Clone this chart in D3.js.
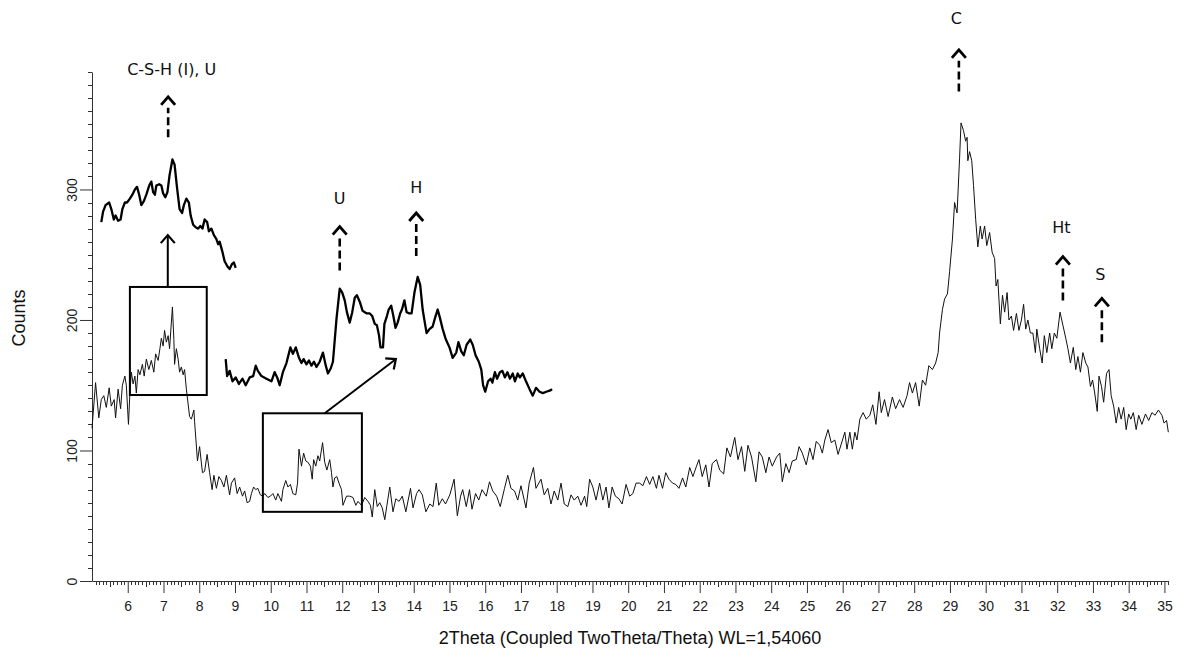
<!DOCTYPE html>
<html>
<head>
<meta charset="utf-8">
<script src="https://cdn.jsdelivr.net/npm/d3@7"></script>
<style>
  body { margin: 0; background: #fff; }
  .axis text { font-family: "Liberation Sans", Arial, sans-serif; font-size: 14px; fill: #222; }
  .axis path, .axis line, .minor line { stroke: #333; stroke-width: 1; }
  .title { font-family: "Liberation Sans", Arial, sans-serif; font-size: 18px; fill: #111; }
  .peak-label { font-family: "DejaVu Sans", sans-serif; font-size: 16px; fill: #111; }
</style>
</head>
<body>
<svg id="chart" width="1177" height="655"></svg>
<script>
// -----------------------------------------------------------------------------
// Data (2Theta, counts)
// -----------------------------------------------------------------------------

var scanLow = [
  [5.00,117],[5.10,152],[5.19,125],[5.26,139],[5.33,142],[5.40,133],[5.48,148],[5.54,134],[5.62,139],[5.66,125],
  [5.73,147],[5.80,132],[5.85,150],[5.92,157],[5.96,150],[6.02,120],[6.06,144],[6.10,160],[6.15,151],[6.20,157],
  [6.24,144],[6.29,162],[6.34,158],[6.41,166],[6.46,157],[6.52,170],[6.59,162],[6.66,169],[6.73,160],[6.78,174],
  [6.85,169],[6.90,178],[6.94,186],[6.99,180],[7.03,192],[7.08,183],[7.13,188],[7.17,178],[7.25,210],[7.29,185],
  [7.31,166],[7.36,178],[7.41,170],[7.45,160],[7.50,164],[7.55,158],[7.59,162],[7.64,147],[7.73,126],[7.78,124],
  [7.85,131],[7.87,122],[7.95,92],[8.01,103],[8.09,83],[8.15,84],[8.22,97],[8.29,83],[8.36,70],[8.41,81],
  [8.48,71],[8.55,80],[8.62,77],[8.69,72],[8.76,81],[8.85,66],[8.90,75],[8.99,79],[9.06,67],[9.13,72],
  [9.21,65],[9.27,69],[9.34,60],[9.41,61],[9.46,67],[9.52,72],[9.58,70],[9.64,71],[9.71,66],[9.78,65],
  [9.83,67],[9.92,64],[9.99,65],[10.06,67],[10.14,62],[10.20,67],[10.30,61],[10.34,70],[10.42,77],[10.48,72],
  [10.55,74],[10.62,67],[10.70,66],[10.75,75],[10.79,101],[10.86,88],[10.92,98],[10.98,92],[11.04,91],[11.11,88],
  [11.16,78],[11.20,93],[11.26,88],[11.32,96],[11.37,92],[11.45,106],[11.51,91],[11.57,85],[11.65,93],[11.70,83],
  [11.74,72],[11.79,79],[11.85,80],[11.91,75],[11.98,70],[12.02,58],[12.12,65],[12.21,65],[12.30,64],[12.38,58],
  [12.44,61],[12.54,58],[12.63,64],[12.72,61],[12.79,58],[12.84,49],[12.91,70],[12.98,57],[13.05,60],[13.12,56],
  [13.19,47],[13.25,58]
];

var scanMid = [
  [13.33,72],[13.42,53],[13.50,63],[13.59,61],[13.68,65],[13.78,53],[13.91,71],[13.98,56],[14.08,67],[14.15,70],
  [14.24,66],[14.34,53],[14.45,59],[14.54,57],[14.63,75],[14.70,58],[14.80,63],[14.89,59],[15.01,66],[15.13,78],
  [15.22,50],[15.31,65],[15.37,70],[15.47,57],[15.56,70],[15.63,55],[15.73,67],[15.82,62],[15.91,70],[16.03,65],
  [16.12,76],[16.21,69],[16.32,65],[16.42,57],[16.54,71],[16.63,81],[16.72,71],[16.82,69],[16.91,62],[17.00,73],
  [17.14,56],[17.23,75],[17.35,87],[17.42,71],[17.56,78],[17.65,66],[17.75,71],[17.84,59],[17.93,69],[18.03,62],
  [18.12,75],[18.21,59],[18.31,57],[18.40,66],[18.49,62],[18.59,65],[18.68,58],[18.78,65],[18.84,57],[18.92,78],
  [19.01,72],[19.10,62],[19.20,75],[19.29,62],[19.38,72],[19.46,56],[19.55,72],[19.64,65],[19.74,63],[19.83,59],
  [19.94,74],[20.04,65],[20.13,67],[20.22,75]
];

var scanRise = [
  [20.32,75],[20.41,73],[20.51,80],[20.60,74],[20.69,80],[20.79,71],[20.86,81],[20.96,71],[21.05,83],[21.14,78],
  [21.24,75],[21.33,74],[21.42,71],[21.52,79],[21.61,72],[21.72,87],[21.81,80],[21.91,88],[21.98,93],[22.07,80],
  [22.17,89],[22.26,72],[22.35,90],[22.47,93],[22.56,85],[22.67,82],[22.76,102],[22.86,95],[22.98,110],[23.07,93],
  [23.17,103],[23.26,84],[23.35,104],[23.45,95],[23.57,76],[23.66,99],[23.75,95],[23.85,83],[23.94,95],[24.03,88],
  [24.15,95],[24.24,98],[24.31,76],[24.41,90],[24.50,83],[24.59,92],[24.70,93],[24.78,103],[24.87,98],[24.98,89],
  [25.08,102],[25.17,93],[25.26,107],[25.36,104],[25.43,98],[25.50,108],[25.59,116],[25.68,106],[25.78,108],[25.87,97],
  [25.96,105],[26.06,114],[26.12,101],[26.20,114],[26.27,101],[26.34,114],[26.40,108],[26.48,124],[26.57,129],[26.66,124],
  [26.76,127],[26.84,135],[26.93,120]
];

var scanPeak = [
  [27.02,145],[27.08,129],[27.17,139],[27.27,126],[27.39,141],[27.48,132],[27.59,139],[27.69,133],[27.80,142],[27.87,152],
  [27.95,144],[28.04,152],[28.14,134],[28.23,154],[28.32,150],[28.41,165],[28.51,162],[28.60,167],[28.67,175],[28.71,190],
  [28.79,208],[28.85,216],[28.93,220],[28.99,237],[29.07,262],[29.13,290],[29.20,282],[29.27,324],[29.31,351],[29.38,345],
  [29.44,337],[29.48,340],[29.50,322],[29.55,329],[29.61,322],[29.66,303],[29.72,277],[29.78,256],[29.85,272],[29.90,262],
  [29.97,272],[30.03,257],[30.11,267],[30.18,252],[30.25,247],[30.29,226],[30.34,231],[30.41,197],[30.47,219],[30.53,206],
  [30.60,221],[30.65,200],[30.72,203],[30.78,192],[30.86,205],[30.93,192],[31.00,200],[31.06,212],[31.12,193],[31.18,200],
  [31.25,190],[31.32,190],[31.39,175],[31.43,193],[31.51,178],[31.58,167],[31.64,188],[31.71,175],[31.79,190],[31.85,178],
  [31.92,190],[31.99,186],[32.08,206],[32.16,196],[32.24,186],[32.30,178],[32.37,167],[32.45,179],[32.52,162],[32.58,172],
  [32.65,160],[32.72,175],[32.80,167],[32.86,164],[32.93,149],[32.99,154],[33.05,144],[33.12,130],[33.17,157],[33.24,149],
  [33.30,137],[33.38,159],[33.45,162],[33.51,142],[33.58,134],[33.65,121],[33.72,133],[33.79,124],[33.86,133],[33.93,116],
  [34.00,128],[34.06,124],[34.13,129],[34.21,116],[34.28,127],[34.37,120],[34.47,128],[34.56,123],[34.65,129],[34.74,127],
  [34.83,131],[34.93,127],[34.99,121],[35.06,123],[35.11,114]
];

// magnified insets, drawn in the chart's own coordinates
var insetCSH = [
  [5.26,275],[5.31,283],[5.38,288],[5.48,290],[5.54,285],[5.61,277],[5.66,280],[5.73,276],[5.80,277],[5.85,285],
  [5.92,290],[5.98,290],[6.06,293],[6.13,296],[6.20,300],[6.26,302],[6.32,296],[6.38,288],[6.45,291],[6.52,296],
  [6.60,303],[6.66,306],[6.71,298],[6.76,296],[6.80,303],[6.88,304],[6.94,303],[6.99,297],[7.05,294],[7.11,298],
  [7.17,311],[7.25,323],[7.31,319],[7.38,301],[7.45,285],[7.52,282],[7.57,288],[7.64,293],[7.71,290],[7.76,280],
  [7.83,273],[7.90,271],[7.97,270],[8.03,272],[8.09,270],[8.15,277],[8.22,275],[8.27,268],[8.34,270],[8.41,265],
  [8.48,262],[8.53,258],[8.57,260],[8.65,252],[8.71,245],[8.79,241],[8.85,239],[8.92,243],[8.97,244],[9.02,240]
];

var insetUH = [
  [8.74,170],[8.78,157],[8.85,161],[8.93,153],[9.02,156],[9.11,151],[9.21,155],[9.30,150],[9.41,156],[9.51,157],
  [9.58,165],[9.64,161],[9.74,157],[9.88,155],[10.02,153],[10.11,160],[10.18,156],[10.25,150],[10.34,160],[10.44,167],
  [10.55,179],[10.62,174],[10.70,179],[10.79,171],[10.86,167],[10.92,170],[11.00,166],[11.07,169],[11.14,165],[11.21,168],
  [11.28,164],[11.37,168],[11.46,175],[11.54,165],[11.60,159],[11.68,163],[11.74,168],[11.84,201],[11.93,224],[12.00,221],
  [12.07,215],[12.13,206],[12.21,198],[12.28,206],[12.35,217],[12.41,219],[12.49,214],[12.57,207],[12.63,206],[12.69,205],
  [12.77,205],[12.84,203],[12.91,197],[12.97,196],[13.03,188],[13.07,179],[13.14,179],[13.18,197],[13.25,203],[13.30,208],
  [13.37,211],[13.43,203],[13.49,194],[13.55,198],[13.62,205],[13.67,208],[13.74,215],[13.80,206],[13.88,205],[13.94,205],
  [14.02,221],[14.11,233],[14.18,227],[14.25,208],[14.31,198],[14.36,190],[14.44,193],[14.53,195],[14.60,202],[14.67,208],
  [14.73,202],[14.81,193],[14.90,185],[15.00,179],[15.09,171],[15.19,175],[15.25,183],[15.33,176],[15.40,173],[15.48,181],
  [15.58,185],[15.65,181],[15.73,173],[15.82,168],[15.89,162],[15.94,150],[16.00,145],[16.08,153],[16.15,155],[16.20,152],
  [16.27,160],[16.33,155],[16.41,160],[16.48,161],[16.55,156],[16.62,160],[16.69,155],[16.77,159],[16.83,153],[16.91,159],
  [16.97,156],[17.05,159],[17.14,153],[17.24,147],[17.33,142],[17.42,148],[17.52,145],[17.61,144],[17.71,145],[17.82,146],
  [17.87,147]
];

// zoom boxes [2Theta from, 2Theta to, counts from, counts to]
var zoomBoxes = [[6.06, 8.21, 142.5, 225.3], [9.78, 12.55, 53, 128.5]];

// solid arrows from box to inset [[2Theta, counts] start, end]
var zoomArrows = [[[7.12, 225.3], [7.12, 265]], [[11.51, 128.5], [13.50, 170]]];

// phase markers
var peakNames = ["C-S-H (I), U", "U", "H", "C", "Ht", "S"];
var peakTheta = [7.13, 11.93, 14.07, 29.25, 32.16, 33.25];
var peakBase  = [340, 238, 249, 375, 215, 183];
var peakTip   = [371, 271.5, 282, 407, 248.5, 216.6];
var peakLabelTheta = [7.23, 11.93, 14.07, 29.18, 32.12, 33.21];
var peakLabelCounts = [387.7, 289, 297.5, 427, 266.4, 230.7];

var xTickValues = [6,7,8,9,10,11,12,13,14,15,16,17,18,19,20,21,22,23,24,25,26,27,28,29,30,31,32,33,34,35];
var yTickValues = [0, 100, 200, 300];

// -----------------------------------------------------------------------------
// Layout
// -----------------------------------------------------------------------------

var margin = {top: 72, right: 9, bottom: 74, left: 92};
var width = 1177 - margin.left - margin.right;
var height = 655 - margin.top - margin.bottom;

var xScale = d3.scaleLinear().domain([5, 35.1]).range([0, width]);
var yScale = d3.scaleLinear().domain([0, 390]).range([height, 0]);

var svg = d3.select("#chart")
  .append("g")
    .attr("transform", "translate(" + margin.left + "," + margin.top + ")");

// minor ticks first so the axes sit on top
var xMinor = [];
for (var t = 51; t <= 351; t++) { if (t % 10 !== 0) xMinor.push(t / 10); }
svg.append("g")
    .attr("class", "minor")
    .attr("transform", "translate(0," + height + ")")
  .selectAll("line")
  .data(xMinor)
  .enter().append("line")
    .attr("x1", function(d) { return Math.round(xScale(d)) + 0.5; })
    .attr("x2", function(d) { return Math.round(xScale(d)) + 0.5; })
    .attr("y1", 0)
    .attr("y2", function(d) { return Math.abs(d * 10 % 10 - 5) < 0.01 ? 6 : 4; });

var yMinor = [];
for (var c = 10; c <= 390; c += 10) { if (c % 100 !== 0) yMinor.push(c); }
svg.append("g")
    .attr("class", "minor")
  .selectAll("line")
  .data(yMinor)
  .enter().append("line")
    .attr("y1", function(d) { return Math.round(yScale(d)) + 0.5; })
    .attr("y2", function(d) { return Math.round(yScale(d)) + 0.5; })
    .attr("x1", 0)
    .attr("x2", -4);

svg.append("g")
    .attr("class", "axis")
    .attr("transform", "translate(0," + height + ")")
    .call(d3.axisBottom(xScale)
        .tickValues(xTickValues)
        .tickSize(12)
        .tickSizeOuter(0)
        .tickPadding(8)
        .tickFormat(d3.format("d")));

var yAxis = svg.append("g")
    .attr("class", "axis")
    .call(d3.axisLeft(yScale)
        .tickValues(yTickValues)
        .tickSize(12)
        .tickSizeOuter(0)
        .tickFormat(d3.format("d")));

yAxis.selectAll("text")
    .attr("x", 0)
    .attr("dy", "0.35em")
    .attr("text-anchor", "middle")
    .attr("transform", "translate(-20,0) rotate(-90)");

// axis titles
d3.select("#chart").append("text")
    .attr("class", "title")
    .attr("x", margin.left + width / 2)
    .attr("y", 644)
    .attr("text-anchor", "middle")
    .text("2Theta (Coupled TwoTheta/Theta) WL=1,54060");

d3.select("#chart").append("text")
    .attr("class", "title")
    .attr("transform", "translate(25,318) rotate(-90)")
    .attr("text-anchor", "middle")
    .text("Counts");

// -----------------------------------------------------------------------------
// Pattern
// -----------------------------------------------------------------------------

var line = d3.line()
    .x(function(d) { return xScale(d[0]); })
    .y(function(d) { return yScale(d[1]); });

var scan = scanLow.concat(scanMid, scanRise, scanPeak);

svg.append("path")
    .datum(scan)
    .attr("fill", "none")
    .attr("stroke", "#111")
    .attr("stroke-width", 1)
    .attr("stroke-linejoin", "round")
    .attr("d", line);

[insetCSH, insetUH].forEach(function(s) {
  svg.append("path")
      .datum(s)
      .attr("fill", "none")
      .attr("stroke", "#000")
      .attr("stroke-width", 2.3)
      .attr("stroke-linejoin", "round")
      .attr("d", line);
});

svg.selectAll(".zoom-box")
    .data(zoomBoxes)
  .enter().append("rect")
    .attr("class", "zoom-box")
    .attr("x", function(d) { return xScale(d[0]); })
    .attr("y", function(d) { return yScale(d[3]); })
    .attr("width", function(d) { return xScale(d[1]) - xScale(d[0]); })
    .attr("height", function(d) { return yScale(d[2]) - yScale(d[3]); })
    .attr("fill", "none")
    .attr("stroke", "#000")
    .attr("stroke-width", 2);

function arrow(x0, y0, x1, y1, dashed) {
  var ang = Math.atan2(y1 - y0, x1 - x0) * 180 / Math.PI;
  var len = Math.sqrt((x1 - x0) * (x1 - x0) + (y1 - y0) * (y1 - y0));
  var g = svg.append("g")
      .attr("transform", "translate(" + x0 + "," + y0 + ") rotate(" + ang + ")");
  g.append("line")
      .attr("x1", 0).attr("y1", 0)
      .attr("x2", dashed ? len - 11 : len - 1).attr("y2", 0)
      .attr("stroke", "#000")
      .attr("stroke-width", dashed ? 2.6 : 2)
      .attr("stroke-dasharray", dashed ? "8,4" : null);
  g.append("path")
      .attr("d", "M" + (len - 8) + ",-7L" + len + ",0L" + (len - 8) + ",7")
      .attr("fill", "none")
      .attr("stroke", "#000")
      .attr("stroke-width", dashed ? 2.8 : 2.2);
}

zoomArrows.forEach(function(a) {
  arrow(xScale(a[0][0]), yScale(a[0][1]), xScale(a[1][0]), yScale(a[1][1]), false);
});

peakNames.forEach(function(name, i) {
  arrow(xScale(peakTheta[i]), yScale(peakBase[i]), xScale(peakTheta[i]), yScale(peakTip[i]), true);
  svg.append("text")
      .attr("class", "peak-label")
      .attr("x", xScale(peakLabelTheta[i]))
      .attr("y", yScale(peakLabelCounts[i]))
      .attr("text-anchor", "middle")
      .text(name);
});
</script>
</body>
</html>
